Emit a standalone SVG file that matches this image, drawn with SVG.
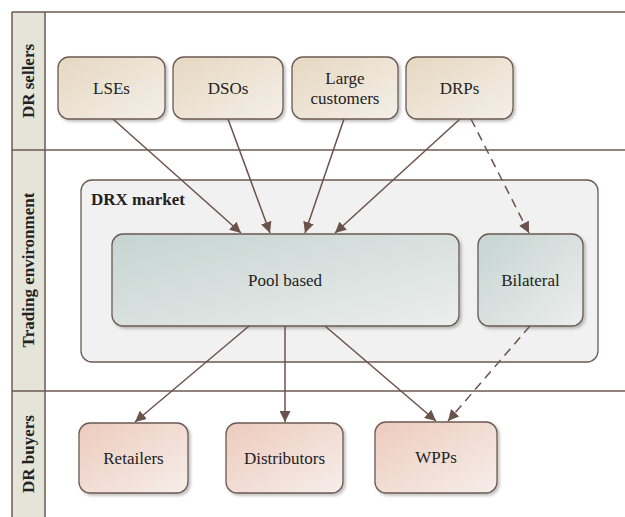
<svg xmlns="http://www.w3.org/2000/svg" width="625" height="517" viewBox="0 0 625 517">
<defs>
<linearGradient id="gTop" x1="0" y1="0" x2="1" y2="1"><stop offset="0" stop-color="#e6d8c1"/><stop offset="1" stop-color="#f4efe8"/></linearGradient>
<linearGradient id="gMid" x1="0" y1="0" x2="1" y2="1"><stop offset="0" stop-color="#c6d4d1"/><stop offset="1" stop-color="#ebeeec"/></linearGradient>
<linearGradient id="gBot" x1="0" y1="0" x2="1" y2="1"><stop offset="0" stop-color="#edcbbd"/><stop offset="1" stop-color="#f6eeea"/></linearGradient>
<filter id="sh" x="-10%" y="-10%" width="130%" height="130%"><feDropShadow dx="2" dy="2" stdDeviation="1.5" flood-color="#000" flood-opacity="0.25"/></filter>
<marker id="ah" viewBox="0 0 10 10" refX="10" refY="5" markerWidth="11" markerHeight="11" markerUnits="userSpaceOnUse" orient="auto"><path d="M0,0 L10,5 L0,10 z" fill="#6b534b"/></marker>
</defs>
<style>
text{font-family:'Liberation Serif','Times New Roman','DejaVu Serif',serif;fill:#222}
.lane{stroke:#6b5a52;stroke-width:1.5;fill:none}
.box{stroke:#6b5a52;stroke-width:1.3;filter:url(#sh)}
.t{font-size:17px;text-anchor:middle}
.lt{font-size:17px;font-weight:bold;text-anchor:middle}
.c{stroke:#6b534b;stroke-width:1.5;fill:none;marker-end:url(#ah)}
.d{stroke-dasharray:9,6}
</style>
<rect width="625" height="517" fill="#fff"/>
<g id="lanes">
<rect x="12" y="12" width="33" height="505" fill="#e5e4d8"/>
<line class="lane" x1="12" y1="12" x2="625" y2="12"/>
<line class="lane" x1="12" y1="12" x2="12" y2="517"/>
<line class="lane" x1="45" y1="12" x2="45" y2="517"/>
<line class="lane" x1="12" y1="150" x2="625" y2="150"/>
<line class="lane" x1="12" y1="391" x2="625" y2="391"/>
<text class="lt" transform="translate(34,81) rotate(-90)">DR sellers</text>
<text class="lt" transform="translate(34,270) rotate(-90)">Trading environment</text>
<text class="lt" transform="translate(34,454) rotate(-90)">DR buyers</text>
</g>
<g id="drx-market">
<rect x="81" y="180" width="517" height="182" rx="11" fill="#f1f1f1" stroke="#6b5a52" stroke-width="1.3"/>
<text x="91" y="205" font-size="17" font-weight="bold">DRX market</text>
</g>
<g id="lses"><rect class="box" x="58" y="57" width="107" height="62" rx="11" fill="url(#gTop)"/><text class="t" x="111.5" y="94">LSEs</text></g>
<g id="dsos"><rect class="box" x="173" y="57" width="110" height="62" rx="11" fill="url(#gTop)"/><text class="t" x="228" y="94">DSOs</text></g>
<g id="large-customers"><rect class="box" x="292" y="57" width="106" height="62" rx="11" fill="url(#gTop)"/><text class="t" x="345" y="84">Large</text><text class="t" x="345" y="104">customers</text></g>
<g id="drps"><rect class="box" x="406" y="57" width="107" height="62" rx="11" fill="url(#gTop)"/><text class="t" x="459.5" y="94">DRPs</text></g>
<g id="pool-based"><rect class="box" x="112" y="234" width="347" height="92" rx="11" fill="url(#gMid)"/><text class="t" x="285" y="286">Pool based</text></g>
<g id="bilateral"><rect class="box" x="478" y="234" width="105" height="92" rx="11" fill="url(#gMid)"/><text class="t" x="530.5" y="286">Bilateral</text></g>
<g id="retailers"><rect class="box" x="79" y="423" width="109" height="70" rx="11" fill="url(#gBot)"/><text class="t" x="133.5" y="464">Retailers</text></g>
<g id="distributors"><rect class="box" x="226" y="423" width="117" height="70" rx="11" fill="url(#gBot)"/><text class="t" x="284.5" y="464">Distributors</text></g>
<g id="wpps"><rect class="box" x="375" y="422" width="122" height="71" rx="11" fill="url(#gBot)"/><text class="t" x="436" y="463">WPPs</text></g>
<g id="connectors">
<line class="c" x1="113" y1="119" x2="241" y2="233"/>
<line class="c" x1="228" y1="119" x2="270" y2="233"/>
<line class="c" x1="344" y1="119" x2="305" y2="233"/>
<line class="c" x1="460" y1="119" x2="335" y2="233"/>
<line class="c d" x1="471" y1="119" x2="529" y2="233"/>
<line class="c" x1="249" y1="326" x2="135" y2="422"/>
<line class="c" x1="285" y1="326" x2="285" y2="422"/>
<line class="c" x1="325" y1="326" x2="436" y2="421"/>
<line class="c d" x1="530" y1="326" x2="448" y2="421"/>
</g>
</svg>
